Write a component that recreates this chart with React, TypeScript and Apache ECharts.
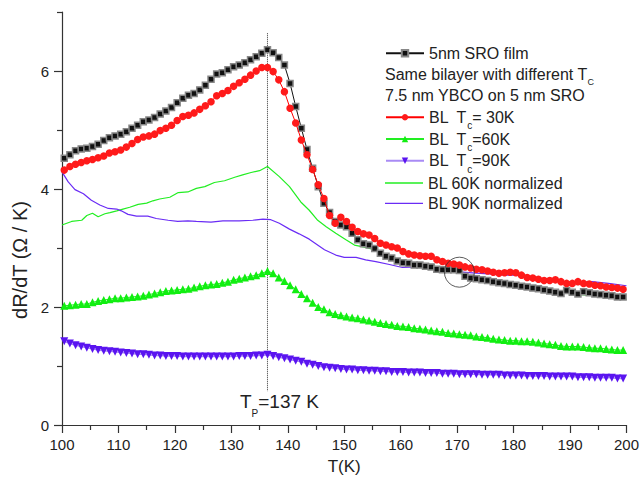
import React, { useEffect, useRef } from 'react';
import * as echarts from 'echarts';

// Temperatures of the marker series (K)
const tK = [
  100.4, 101.4, 102.4, 103.4, 104.4, 105.4, 106.4, 107.4, 108.4, 109.4,
  110.4, 111.4, 112.4, 113.4, 114.4, 115.4, 116.4, 117.4, 118.4, 119.4,
  120.4, 121.4, 122.4, 123.4, 124.4, 125.4, 126.4, 127.4, 128.4, 129.4,
  130.4, 131.4, 132.4, 133.4, 134.4, 135.4, 136.4, 137.4, 138.4, 139.4,
  140.4, 141.4, 142.4, 143.4, 144.4, 145.4, 146.4, 147.4, 148.4, 149.4,
  150.4, 151.4, 152.4, 153.4, 154.4, 155.4, 156.4, 157.4, 158.4, 159.4,
  160.4, 161.4, 162.4, 163.4, 164.4, 165.4, 166.4, 167.4, 168.4, 169.4,
  170.4, 171.4, 172.4, 173.4, 174.4, 175.4, 176.4, 177.4, 178.4, 179.4,
  180.4, 181.4, 182.4, 183.4, 184.4, 185.4, 186.4, 187.4, 188.4, 189.4,
  190.4, 191.4, 192.4, 193.4, 194.4, 195.4, 196.4, 197.4, 198.4, 199.4,
];

const sroFilm = [
  4.52, 4.58, 4.65, 4.68, 4.69, 4.72, 4.76, 4.82, 4.87, 4.90,
  4.93, 4.97, 5.03, 5.08, 5.14, 5.17, 5.21, 5.27, 5.32, 5.38,
  5.46, 5.54, 5.59, 5.62, 5.68, 5.76, 5.86, 5.95, 5.97, 6.02,
  6.07, 6.10, 6.14, 6.19, 6.24, 6.30, 6.36, 6.31, 6.23, 6.10,
  5.79, 5.40, 5.03, 4.67, 4.35, 4.04, 3.76, 3.60, 3.45, 3.39,
  3.36, 3.25, 3.14, 3.07, 3.05, 2.99, 2.91, 2.86, 2.83, 2.78,
  2.75, 2.74, 2.71, 2.71, 2.69, 2.68, 2.64, 2.63, 2.63, 2.63,
  2.62, 2.52, 2.49, 2.48, 2.46, 2.45, 2.43, 2.41, 2.40, 2.38,
  2.37, 2.35, 2.34, 2.32, 2.31, 2.29, 2.27, 2.25, 2.23, 2.28,
  2.25, 2.22, 2.26, 2.24, 2.22, 2.21, 2.20, 2.19, 2.17, 2.17,
];

const bl30K = [
  4.32, 4.38, 4.42, 4.45, 4.48, 4.50, 4.53, 4.56, 4.61, 4.63,
  4.66, 4.71, 4.77, 4.84, 4.88, 4.90, 4.93, 4.99, 5.03, 5.08,
  5.16, 5.23, 5.25, 5.29, 5.35, 5.41, 5.48, 5.58, 5.62, 5.67,
  5.74, 5.80, 5.86, 5.93, 6.00, 6.06, 6.06, 5.99, 5.85, 5.65,
  5.37, 5.12, 4.83, 4.58, 4.33, 4.07, 3.84, 3.55, 3.42, 3.52,
  3.45, 3.35, 3.28, 3.24, 3.22, 3.16, 3.08, 3.05, 3.02, 3.00,
  2.94, 2.90, 2.88, 2.87, 2.86, 2.86, 2.80, 2.77, 2.74, 2.73,
  2.71, 2.68, 2.66, 2.64, 2.63, 2.61, 2.59, 2.57, 2.58, 2.59,
  2.58, 2.54, 2.50, 2.49, 2.47, 2.45, 2.45, 2.46, 2.43, 2.40,
  2.40, 2.43, 2.40, 2.39, 2.37, 2.36, 2.34, 2.33, 2.32, 2.30,
];

const bl60K = [
  2.02, 2.03, 2.04, 2.05, 2.05, 2.08, 2.10, 2.12, 2.13, 2.15,
  2.15, 2.16, 2.17, 2.18, 2.19, 2.21, 2.23, 2.25, 2.27, 2.28,
  2.29, 2.30, 2.31, 2.33, 2.35, 2.37, 2.38, 2.39, 2.41, 2.43,
  2.46, 2.48, 2.50, 2.52, 2.54, 2.57, 2.61, 2.57, 2.50, 2.44,
  2.37, 2.30, 2.22, 2.15, 2.07, 2.00, 1.96, 1.91, 1.88, 1.86,
  1.84, 1.82, 1.81, 1.79, 1.77, 1.75, 1.73, 1.71, 1.70, 1.68,
  1.67, 1.66, 1.64, 1.63, 1.62, 1.60, 1.59, 1.58, 1.56, 1.55,
  1.54, 1.53, 1.52, 1.50, 1.49, 1.48, 1.46, 1.45, 1.44, 1.43,
  1.43, 1.42, 1.42, 1.41, 1.40, 1.38, 1.37, 1.36, 1.34, 1.33,
  1.33, 1.33, 1.32, 1.31, 1.30, 1.30, 1.29, 1.28, 1.27, 1.27,
];

const bl90K = [
  1.42, 1.38, 1.35, 1.33, 1.31, 1.29, 1.27, 1.26, 1.25, 1.24,
  1.23, 1.22, 1.21, 1.20, 1.20, 1.19, 1.18, 1.18, 1.17, 1.17,
  1.17, 1.16, 1.16, 1.16, 1.16, 1.16, 1.16, 1.16, 1.16, 1.16,
  1.16, 1.17, 1.17, 1.17, 1.18, 1.18, 1.19, 1.17, 1.15, 1.13,
  1.11, 1.09, 1.07, 1.04, 1.02, 1.00, 0.98, 0.97, 0.96, 0.95,
  0.94, 0.94, 0.93, 0.93, 0.92, 0.92, 0.91, 0.91, 0.90, 0.90,
  0.90, 0.89, 0.89, 0.89, 0.88, 0.88, 0.88, 0.87, 0.87, 0.87,
  0.86, 0.86, 0.86, 0.86, 0.85, 0.85, 0.85, 0.85, 0.84, 0.84,
  0.84, 0.84, 0.83, 0.83, 0.83, 0.83, 0.82, 0.82, 0.82, 0.82,
  0.82, 0.81, 0.81, 0.81, 0.80, 0.80, 0.80, 0.80, 0.79, 0.79,
];

// Normalized curves (solid lines)
const norm60T = [
  100, 101.7, 103.5, 104.4, 105.4, 106.4, 107.6, 108.5, 109.7, 110.8,
  112, 113.5, 115, 116.1, 117.3, 119.1, 120.6, 122.3, 123.8, 125.3,
  127, 128.8, 130.6, 132, 133.5, 135, 136.4, 138.5, 140.3, 142.3,
  143.8, 145.3, 146.8, 148.5, 150.3, 151.8, 153.8, 155.3, 156.8, 158.5,
  159.7, 161.5, 163.3, 165.6, 167.4, 169.1, 171, 172.7, 175.6, 178.6,
  181.5, 184.5, 187.4, 190.3, 193.3, 196.2, 200,
];
const norm60V = [
  3.39, 3.45, 3.47, 3.55, 3.59, 3.53, 3.58, 3.60, 3.63, 3.66,
  3.69, 3.74, 3.76, 3.80, 3.83, 3.86, 3.94, 3.95, 4.01, 4.04,
  4.11, 4.14, 4.20, 4.24, 4.28, 4.31, 4.38, 4.21, 4.04, 3.78,
  3.64, 3.47, 3.36, 3.25, 3.14, 3.05, 3.01, 2.97, 2.91, 2.85,
  2.80, 2.75, 2.73, 2.71, 2.63, 2.63, 2.55, 2.49, 2.43, 2.40,
  2.34, 2.32, 2.26, 2.22, 2.20, 2.17, 2.13,
];

const norm90T = [
  100, 101.1, 102.3, 103.8, 105.2, 106.7, 108.2, 109.7, 110.5, 111.7,
  113.2, 115.2, 116.7, 118.8, 120.5, 122.3, 123.8, 126.4, 128.5, 131.4,
  133.8, 135.6, 137.0, 138.5, 140.3, 142, 143.8, 146.5, 148.5, 150,
  152.1, 153.8, 155.6, 158, 160.3, 162.7, 165.6, 167.4, 169.7, 172.7,
  175.6, 178.6, 180.3, 182.7, 185.6, 188.6, 190.9, 193.9, 196.8, 200,
];
const norm90V = [
  4.29, 4.12, 3.99, 3.92, 3.81, 3.73, 3.67, 3.66, 3.63, 3.57,
  3.54, 3.54, 3.50, 3.47, 3.45, 3.46, 3.45, 3.44, 3.46, 3.46,
  3.47, 3.49, 3.48, 3.42, 3.32, 3.24, 3.15, 2.97, 2.88, 2.84,
  2.84, 2.80, 2.77, 2.72, 2.67, 2.68, 2.67, 2.62, 2.60, 2.58,
  2.56, 2.54, 2.54, 2.50, 2.47, 2.43, 2.41, 2.43, 2.40, 2.36,
];

const peakT = 136.4;
const peakLineV = [6.64, 0.57];
const circleMark = [170.4, 2.59];

const xTicks = [100, 110, 120, 130, 140, 150, 160, 170, 180, 190, 200];
const yMajor = [0, 2, 4, 6];
const yMinor = [1, 3, 5, 7];

const seriesNames = ['5nm SRO film', 'BL Tc=30K', 'BL Tc=60K', 'BL Tc=90K', 'BL 60K normalized', 'BL 90K normalized'];
const lineOnly = ['BL 60K normalized', 'BL 90K normalized'];
const legendLabels: Record<string, string> = {
  '5nm SRO film': '5nm SRO film',
  'BL Tc=30K': 'BL  T{s|c}= 30K',
  'BL Tc=60K': 'BL  T{s|c}=60K',
  'BL Tc=90K': 'BL  T{s|c}=90K',
  'BL 60K normalized': 'BL 60K normalized',
  'BL 90K normalized': 'BL 90K normalized',
};
const legendCenters = [53.3, 117.3, 139, 160.7, 183, 203.3];

const FONT = "'Liberation Sans', Arial, Helvetica, sans-serif";
const TXT = '#222';

export default function App() {
  const ref = useRef<HTMLDivElement>(null);
  useEffect(() => {
    document.body.style.margin = '0';
    const chart = echarts.init(ref.current!, null, { renderer: 'svg' });
    const pairs = (xs: number[], ys: number[]) => xs.map((x, i) => [x, ys[i]]);

    const legendText = {
      fontFamily: FONT,
      fontSize: 16,
      color: TXT,
      lineHeight: 27,
      rich: { s: { fontFamily: FONT, fontSize: 10, lineHeight: 10, verticalAlign: 'bottom', color: TXT } },
    };
    const legends = seriesNames.map((name, i) => {
      const plain = lineOnly.indexOf(name) >= 0;
      return {
        data: plain ? [{ name, icon: 'rect' }] : [name],
        left: 385,
        top: legendCenters[i] - 13.5,
        padding: 0,
        itemWidth: 38,
        itemHeight: plain ? 1.3 : 8,
        itemGap: 0,
        selectedMode: false,
        textStyle: legendText,
        formatter: (n: string) => legendLabels[n] || n,
      };
    });

    const option: any = {
      animation: false,
      backgroundColor: '#fff',
      grid: { left: 62, right: 14, top: 12, bottom: 56, containLabel: false },
      legend: legends,
      xAxis: {
        type: 'value',
        min: 100,
        max: 200,
        interval: 10,
        name: 'T(K)',
        nameLocation: 'middle',
        nameGap: 33,
        nameTextStyle: { fontFamily: FONT, fontSize: 17, color: TXT },
        axisLine: { lineStyle: { color: '#333', width: 1.2 } },
        axisTick: { length: 8, lineStyle: { color: '#333', width: 1.2 } },
        minorTick: { show: true, splitNumber: 2, length: 5, lineStyle: { color: '#333', width: 1.2 } },
        axisLabel: { fontFamily: FONT, fontSize: 15, color: TXT, margin: 12, customValues: xTicks },
        splitLine: { show: false },
      },
      yAxis: [
        {
          type: 'value',
          min: 0,
          max: 7,
          axisLine: { show: true, lineStyle: { color: '#333', width: 1.2 } },
          axisTick: { show: true, length: 8, customValues: yMajor, lineStyle: { color: '#333', width: 1.2 } },
          axisLabel: { fontFamily: FONT, fontSize: 15, color: TXT, margin: 13, customValues: yMajor },
          splitLine: { show: false },
        },
        {
          type: 'value',
          min: 0,
          max: 7,
          position: 'left',
          axisLine: { show: false },
          axisTick: { show: true, length: 5, customValues: yMinor, lineStyle: { color: '#333', width: 1.2 } },
          axisLabel: { show: false },
          splitLine: { show: false },
        },
      ],
      graphic: [
        {
          type: 'text',
          x: 20,
          y: 260,
          rotation: Math.PI / 2,
          style: {
            text: 'dR/dT (Ω / K)',
            fontFamily: FONT,
            fontSize: 20,
            fill: TXT,
            align: 'center',
            verticalAlign: 'middle',
          },
        },
        {
          type: 'text',
          left: 385,
          top: 61.8,
          style: {
            text: 'Same bilayer with different T{s|C}',
            fontFamily: FONT,
            fontSize: 16,
            lineHeight: 25,
            fill: TXT,
            rich: { s: { fontFamily: FONT, fontSize: 9, lineHeight: 9, verticalAlign: 'bottom', fill: TXT } },
          },
        },
        {
          type: 'text',
          left: 385,
          top: 87.5,
          style: { text: '7.5 nm YBCO on 5 nm SRO', fontFamily: FONT, fontSize: 16, lineHeight: 16, fill: TXT },
        },
        {
          type: 'text',
          left: 240,
          top: 385,
          style: {
            text: 'T{s|P}=137 K',
            fontFamily: FONT,
            fontSize: 19,
            lineHeight: 33,
            fill: TXT,
            rich: { s: { fontFamily: FONT, fontSize: 10, lineHeight: 10, verticalAlign: 'bottom', fill: TXT } },
          },
        },
      ],
      series: [
        {
          name: 'peak',
          type: 'line',
          data: peakLineV.map((v) => [peakT, v]),
          symbol: 'none',
          lineStyle: { color: '#333', width: 1, type: 'dotted' },
          z: 1,
          silent: true,
        },
        {
          name: 'BL 60K normalized',
          type: 'line',
          data: pairs(norm60T, norm60V),
          symbol: 'none',
          lineStyle: { color: '#22ee22', width: 1.2 },
          itemStyle: { color: '#22ee22' },
          z: 2,
        },
        {
          name: 'BL 90K normalized',
          type: 'line',
          data: pairs(norm90T, norm90V),
          symbol: 'none',
          lineStyle: { color: '#6a2cf5', width: 1.2 },
          itemStyle: { color: '#6a2cf5' },
          z: 2,
        },
        {
          name: '5nm SRO film',
          type: 'line',
          data: pairs(tK, sroFilm),
          symbol: 'rect',
          symbolSize: 6,
          lineStyle: { color: '#111', width: 1 },
          itemStyle: { color: '#111', borderColor: '#888', borderWidth: 1.5 },
          z: 3,
        },
        {
          name: 'BL Tc=30K',
          type: 'line',
          data: pairs(tK, bl30K),
          symbol: 'circle',
          symbolSize: 7.5,
          lineStyle: { color: '#ff0000', width: 1 },
          itemStyle: { color: '#ff1a1a' },
          z: 4,
        },
        {
          name: 'BL Tc=60K',
          type: 'line',
          data: pairs(tK, bl60K),
          symbol: 'triangle',
          symbolSize: 8,
          lineStyle: { color: '#22ee22', width: 1 },
          itemStyle: { color: '#11ee11' },
          z: 4,
        },
        {
          name: 'BL Tc=90K',
          type: 'line',
          data: pairs(tK, bl90K),
          symbol: 'triangle',
          symbolRotate: 180,
          symbolSize: 8,
          lineStyle: { color: '#a98bf5', width: 1.5 },
          itemStyle: { color: '#5a14f0' },
          z: 4,
        },
        {
          name: 'mark',
          type: 'scatter',
          data: [circleMark],
          symbol: 'circle',
          symbolSize: 30,
          itemStyle: { color: 'rgba(0,0,0,0)', borderColor: '#333', borderWidth: 1 },
          z: 6,
          silent: true,
        },
      ],
    };
    chart.setOption(option);
    return () => chart.dispose();
  }, []);
  return <div ref={ref} style={{ width: 642, height: 481 }} />;
}
